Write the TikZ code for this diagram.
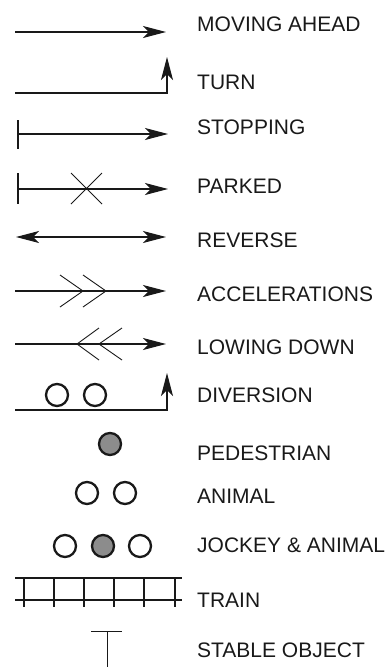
\documentclass[tikz,border=0pt]{standalone}
\usepackage{fontspec}
\setmainfont{Liberation Sans}
\usetikzlibrary{arrows.meta}
\begin{document}
\begin{tikzpicture}[x=1pt,y=-1pt,
  lbl/.style={anchor=west,inner sep=0pt,font=\fontsize{21}{21}\selectfont,text height=15pt,text depth=0pt,text=black!90},
  ln/.style={line width=1.1pt,black!90},
  thin/.style={line width=0.9pt,black!90},
  arr/.style={-{Stealth[length=23pt,width=12pt,inset=6pt]}},
  rarr/.style={{Stealth[length=23pt,width=12pt,inset=6pt]}-{Stealth[length=23pt,width=12pt,inset=6pt]}},
  ring/.style={line width=2.3pt,black!90},
  train/.style={line width=2pt,black!90}]
\useasboundingbox (0,0) rectangle (391,667);
% labels
\node[lbl] (t1) at (197,24) {MOVING AHEAD};
\node[lbl] (t2) at (197,82) {TURN};
\node[lbl] (t3) at (197,127) {STOPPING};
\node[lbl] (t4) at (197,186) {PARKED};
\node[lbl] (t5) at (197,240) {REVERSE};
\node[lbl] (t6) at (197,294) {ACCELERATIONS};
\node[lbl] (t7) at (197,347) {LOWING DOWN};
\node[lbl] (t8) at (197,395) {DIVERSION};
\node[lbl] (t9) at (197,453) {PEDESTRIAN};
\node[lbl] (t10) at (197,496) {ANIMAL};
\node[lbl] (t11) at (197,545) {JOCKEY \& ANIMAL};
\node[lbl] (t12) at (197,600) {TRAIN};
\node[lbl] (t13) at (197,650) {STABLE OBJECT};
% moving ahead
\draw[ln,arr] (15,32) -- (166,32);
% turn
\draw[ln,arr] (15,93) -- (167,93) -- (167,57);
% stopping
\draw[ln,arr] (18,134) -- (168,134);
\draw[ln] (18,120) -- (18,149);
% parked
\draw[ln,arr] (18,189) -- (168,189);
\draw[ln] (18,173) -- (18,204);
\draw[thin] (71,173) -- (102,204) (71,204) -- (102,173);
% reverse
\draw[ln,rarr] (16,237) -- (166,237);
% accelerations
\draw[ln,arr] (15,291) -- (166,291);
\draw[thin] (60,275) -- (83,291) -- (60,307) (83,275) -- (106,291) -- (83,307);
% lowing down
\draw[ln,arr] (15,344) -- (166,344);
\draw[thin] (99,328) -- (77,344) -- (99,360) (122,328) -- (99,344) -- (122,360);
% diversion
\draw[ln,arr] (15,410) -- (167,410) -- (167,373);
\draw[ring] (57,395) circle (11);
\draw[ring] (95,395) circle (11);
% pedestrian
\draw[ring,fill=black!45] (110,444) circle (11);
% animal
\draw[ring] (87,493) circle (11);
\draw[ring] (125,493) circle (11);
% jockey & animal
\draw[ring] (65,546) circle (11);
\draw[ring,fill=black!45] (103,546) circle (11);
\draw[ring] (140,546) circle (11);
% train
\draw[train] (15,578) -- (182,578) (15,600) -- (182,600);
\foreach \x in {24,54,84,114,144,175} \draw[train] (\x,578) -- (\x,607);
% stable object
\draw[thin] (91,631) -- (122,631) (107,631) -- (107,667);
\end{tikzpicture}
\end{document}
